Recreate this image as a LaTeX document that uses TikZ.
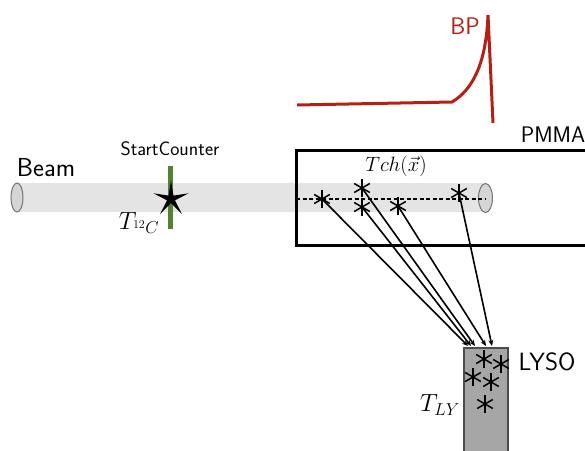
\documentclass[tikz,border=0pt]{standalone}
\usetikzlibrary{shapes.geometric,arrows.meta}
\definecolor{bpred}{RGB}{182,32,20}
\definecolor{tube}{RGB}{228,228,228}
\definecolor{barg}{RGB}{84,130,53}
\tikzset{
 lbl/.style={inner sep=0pt,font=\sffamily},
 big/.style={inner sep=0pt,font=\sffamily\fontsize{24}{24}\selectfont},
 ast/.pic={\foreach \a in {90,30,-30}{\draw[black,line width=1.5pt] (\a:9) -- (\a+180:9);}},
 ph/.style={draw=black,line width=1.6pt,-{Stealth[length=6pt,width=5pt]}}
}
\begin{document}
\begin{tikzpicture}[x=1pt,y=-1pt]
\useasboundingbox (0,0) rectangle (585,450);
% tube
\fill[tube] (17,183) rectangle (485,212);
\draw[gray!90!black,fill=tube!85!gray,line width=1pt] (17,197.5) ellipse [x radius=6,y radius=14.5];
\draw[gray!90!black,fill=tube!85!gray,line width=1pt] (485.5,198) ellipse [x radius=7,y radius=14.5];
% PMMA
\draw[black,line width=3pt] (590,150) -- (296,150) -- (296,245) -- (590,245);
\coordinate (dl) at (296,198.5);
\coordinate (dr) at (485,198.5);
\draw[black,line width=2pt,dash pattern=on 4pt off 2.5pt] (dl) -- (dr);
% start counter
\fill[barg] (167.5,166) rectangle (172.5,229);
\node[star,star points=5,star point ratio=4.4,fill=black,inner sep=0pt,minimum size=37pt] (st) at (171,199) {};
% events
\coordinate (e1) at (322,199);
\coordinate (e2) at (362,188);
\coordinate (e3) at (362,207);
\coordinate (e4) at (398,206);
\coordinate (e5) at (459,193);
\foreach \n in {e1,e2,e3,e4,e5}{\pic at (\n) {ast};}
% LYSO
\draw[black!70,fill=black!35,line width=2pt] (464,348) rectangle (508,455);
\coordinate (a1) at (468,346);
\coordinate (a2) at (471,346);
\coordinate (a3) at (475,346);
\coordinate (a4) at (486,346);
\coordinate (a5) at (492,346);
\draw[ph] (e1) -- (a1);
\draw[ph] (e3) -- (a2);
\draw[ph] (e2) -- (a3);
\draw[ph] (e4) -- (a4);
\draw[ph] (e5) -- (a5);
\coordinate (l1) at (484,359);
\coordinate (l2) at (501,364);
\coordinate (l3) at (473,377);
\coordinate (l4) at (491,382);
\coordinate (l5) at (485,404);
\foreach \n in {l1,l2,l3,l4,l5}{\pic at (\n) {ast};}
% Bragg curve
\draw[bpred,line width=3pt,line join=miter] (297,105) -- (452,102) .. controls (472,90) and (486,65) .. (488,15) -- (493,123);
% labels
\node[big,text=bpred] (bp) at (465,26) {BP};
\node[big,font=\sffamily\fontsize{22.5}{22.5}\selectfont] (pm) at (553,135) {PMMA};
\node[big,font=\sffamily\fontsize{25}{25}\selectfont] (ly) at (547,362) {LYSO};
\node[big,font=\sffamily\fontsize{26}{26}\selectfont] (be) at (46,168) {Beam};
\node[lbl,font=\sffamily\fontsize{19.5}{19.5}\selectfont] (sc) at (170,149) {StartCounter};
\node[lbl,font=\fontsize{20}{20}\selectfont] (tc) at (396,166) {$Tch(\vec{x})$};
\node[lbl,font=\fontsize{26}{26}\selectfont] (t12) at (139,223) {$T_{{}^{12}C}$};
\node[lbl,font=\fontsize{26}{26}\selectfont] (tl) at (440,405) {$T_{LY}$};
\end{tikzpicture}
\end{document}
